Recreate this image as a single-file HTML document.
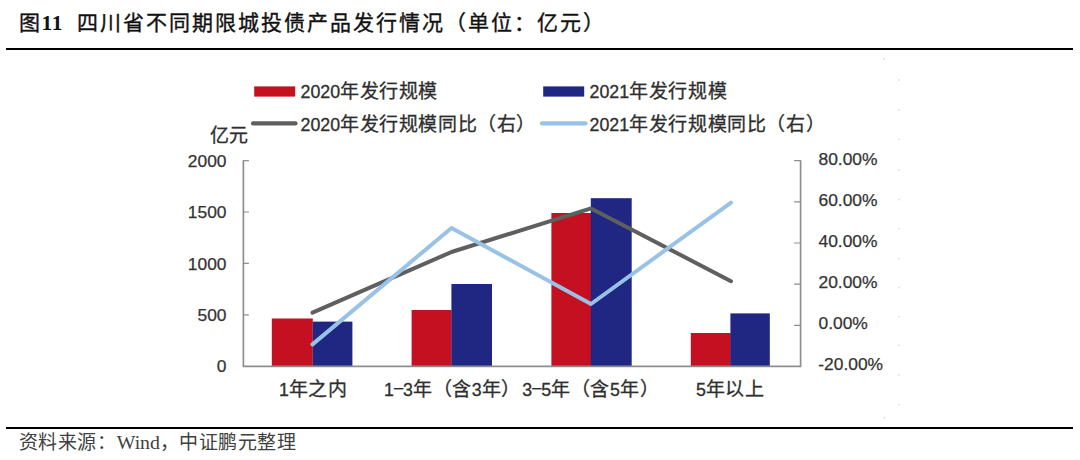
<!DOCTYPE html>
<html lang="zh-CN">
<head>
<meta charset="utf-8">
<title>图11 四川省不同期限城投债产品发行情况</title>
<style>
  html, body { margin: 0; padding: 0; background: #ffffff; }
  body { width: 1080px; height: 460px; position: relative; overflow: hidden;
         font-family: "Liberation Sans", sans-serif; color: #333333; }
  .t { position: absolute; white-space: nowrap; line-height: 1; }
  .title { left: 19px; top: 12.5px; font-family: "Liberation Serif", serif; font-weight: 500;
           font-size: 21px; color: #111111; letter-spacing: 2px; -webkit-text-stroke: 0.35px #111111; }
  .title .n { font-weight: bold; -webkit-text-stroke: 0; letter-spacing: 0.6px; font-size: 21.5px; margin-left: -0.5px; margin-right: 13.5px; }
  .src { left: 19px; top: 432.5px; font-family: "Liberation Serif", serif; font-size: 19px; color: #404040; letter-spacing: 0.45px; }
  .src .n { letter-spacing: 0; font-size: 19.8px; margin-left: 0.5px; margin-right: 0px; }
  .rule { position: absolute; left: 6px; width: 1066.5px; height: 2px; background: #000000; }
  .lab { font-size: 17.8px; color: #2e2e2e; -webkit-text-stroke: 0.3px #2e2e2e; }
  .lab .c { font-size: 19px; letter-spacing: 0.6px; }
  .lab .d { font-size: 16.4px; position: relative; top: -2.6px; }
  .ax { font-size: 17.4px; color: #333333; -webkit-text-stroke: 0.25px #333333; }
  .r { text-align: right; }
  svg { position: absolute; left: 0; top: 0; }
</style>
</head>
<body>
<div class="t title">图<span class="n">11</span>四川省不同期限城投债产品发行情况（单位：亿元）</div>
<div class="rule" style="top:47.8px"></div>
<div class="rule" style="top:426.7px"></div>

<svg width="1080" height="460" viewBox="0 0 1080 460">
  <!-- legend swatches -->
  <rect x="254.2" y="86.4" width="41" height="10.2" fill="#c41020"/>
  <rect x="543.2" y="86.4" width="41" height="10.2" fill="#1f2783"/>
  <line x1="253" y1="123.4" x2="295.5" y2="123.4" stroke="#5f5f5f" stroke-width="4.2" stroke-linecap="round"/>
  <line x1="542" y1="123.4" x2="585.5" y2="123.4" stroke="#99c2e7" stroke-width="4.2" stroke-linecap="round"/>

  <!-- bars -->
  <g fill="#c41020">
    <rect x="271.8" y="318.5" width="41" height="47.5"/>
    <rect x="411.6" y="310" width="40" height="56"/>
    <rect x="551.4" y="213" width="39.6" height="153"/>
    <rect x="690.8" y="333" width="40" height="33"/>
  </g>
  <g fill="#1f2783">
    <rect x="312.8" y="321.6" width="39.6" height="44.4"/>
    <rect x="451.4" y="284" width="40.6" height="82"/>
    <rect x="590.8" y="198.2" width="40.9" height="167.8"/>
    <rect x="730.4" y="313.4" width="39.4" height="52.6"/>
  </g>

  <!-- axes -->
  <g stroke="#8e8e8e" stroke-width="1.2" fill="none">
    <path stroke-width="1.7" d="M243.4 160.3 V366.3 H800.6 V160.3"/>
    <path d="M243.4 160.6 h5.5 M243.4 212 h5.5 M243.4 263.4 h5.5 M243.4 314.8 h5.5"/>
    <path d="M800.6 160.6 h-6.5 M800.6 201.8 h-6.5 M800.6 243 h-6.5 M800.6 284.2 h-6.5 M800.6 325.4 h-6.5"/>
  </g>

  <!-- lines -->
  <polyline points="312.5,312.6 451.5,252 591,208.4 731,281.2" fill="none" stroke="#5f5f5f" stroke-width="4" stroke-linecap="round" stroke-linejoin="round"/>
  <polyline points="312.5,344.4 451.5,228 591,304 731,202.6" fill="none" stroke="#99c2e7" stroke-width="4" stroke-linecap="round" stroke-linejoin="round"/>
  <!-- faint scan specks -->
  <g fill="#dedede">
    <circle cx="883.8" cy="59" r="1"/><circle cx="884.5" cy="417.7" r="1"/>
    <circle cx="899" cy="80.0" r="0.9"/>
    <circle cx="899" cy="110.0" r="0.9"/>
    <circle cx="899" cy="139.5" r="0.9"/>
    <circle cx="899" cy="170.0" r="0.9"/>
    <circle cx="899" cy="199.5" r="0.9"/>
    <circle cx="899" cy="228.5" r="0.9"/>
    <circle cx="899" cy="258.5" r="0.9"/>
    <circle cx="899" cy="287.5" r="0.9"/>
    <circle cx="899" cy="316.5" r="0.9"/>
    <circle cx="899" cy="345.5" r="0.9"/>
    <circle cx="899" cy="375.0" r="0.9"/>
    <circle cx="899" cy="404.5" r="0.9"/>
  </g>
</svg>

<!-- legend text -->
<div class="t lab" style="left:300.5px; top:81.5px;">2020<span class="c">年发行规模</span></div>
<div class="t lab" style="left:589.6px; top:81.5px;">2021<span class="c">年发行规模</span></div>
<div class="t lab" style="left:300.5px; top:114.5px;">2020<span class="c">年发行规模同比（右）</span></div>
<div class="t lab" style="left:589.6px; top:114.5px;">2021<span class="c">年发行规模同比（右）</span></div>

<div class="t lab" style="left:209.5px; top:126px;"><span class="c">亿元</span></div>

<!-- left axis labels -->
<div class="t ax r" style="left:150px; width:76.5px; top:152.5px;">2000</div>
<div class="t ax r" style="left:150px; width:76.5px; top:204px;">1500</div>
<div class="t ax r" style="left:150px; width:76.5px; top:255.5px;">1000</div>
<div class="t ax r" style="left:150px; width:76.5px; top:306.5px;">500</div>
<div class="t ax r" style="left:150px; width:76.5px; top:358px;">0</div>

<!-- right axis labels -->
<div class="t ax" style="left:818.5px; top:150.6px;">80.00%</div>
<div class="t ax" style="left:818.5px; top:191.6px;">60.00%</div>
<div class="t ax" style="left:818.5px; top:232.8px;">40.00%</div>
<div class="t ax" style="left:818.5px; top:274.0px;">20.00%</div>
<div class="t ax" style="left:818.5px; top:315.2px;">0.00%</div>
<div class="t ax" style="left:818.3px; top:356.4px;">-20.00%</div>

<!-- x labels -->
<div class="t lab" style="left:279px; top:379.5px;">1<span class="c">年之内</span></div>
<div class="t lab" style="left:384px; top:379.5px;">1<span class="d">–</span>3<span class="c">年（含</span>3<span class="c">年）</span></div>
<div class="t lab" style="left:522.3px; top:379.5px;">3<span class="d">–</span>5<span class="c">年（含</span>5<span class="c">年）</span></div>
<div class="t lab" style="left:696px; top:379.5px;">5<span class="c">年以上</span></div>

<div class="t src">资料来源：<span class="n">Wind</span>，中证鹏元整理</div>
</body>
</html>
